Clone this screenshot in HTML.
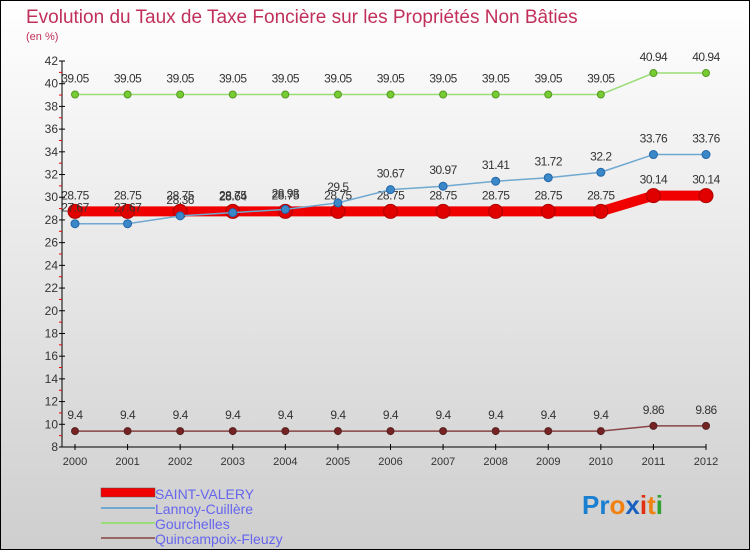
<!DOCTYPE html>
<html><head><meta charset="utf-8"><style>
body{margin:0;width:750px;height:550px;overflow:hidden}
svg{display:block;font-family:"Liberation Sans",sans-serif}
</style></head><body>
<svg id="c" width="750" height="550">
<defs><linearGradient id="bg" x1="0" y1="0" x2="0" y2="1"><stop offset="0" stop-color="#ffffff"/><stop offset="1" stop-color="#cecece"/></linearGradient></defs>
<rect x="0.5" y="0.5" width="749" height="549" fill="url(#bg)" stroke="#000"/>
<text x="26" y="23" font-size="19" fill="#c0305a">Evolution du Taux de Taxe Foncière sur les Propriétés Non Bâties</text>
<text x="26" y="40" font-size="11" fill="#c0305a">(en %)</text>
<g id="axes"></g><g id="series"></g>
<g>
<rect x="101" y="488" width="54" height="9" fill="#f00000" stroke="#555" stroke-width="0.5"/>
<text x="155" y="499" font-size="14" fill="#6666ee">SAINT-VALERY</text>
<line x1="101" y1="508" x2="155" y2="508" stroke="#6fa8d0" stroke-width="2"/>
<text x="155" y="514" font-size="14" fill="#6666ee">Lannoy-Cuillère</text>
<line x1="101" y1="523" x2="155" y2="523" stroke="#99dd77" stroke-width="2"/>
<text x="155" y="529" font-size="14" fill="#6666ee">Gourchelles</text>
<line x1="101" y1="538" x2="155" y2="538" stroke="#996666" stroke-width="2"/>
<text x="155" y="544" font-size="14" fill="#6666ee">Quincampoix-Fleuzy</text>
</g>
<text x="582" y="514" font-size="26" font-weight="bold"><tspan fill="#1a7fd0">Pr</tspan><tspan fill="#f08010">o</tspan><tspan fill="#1a60c0">x</tspan><tspan fill="#e03010">i</tspan><tspan fill="#f08010">t</tspan><tspan fill="#30a030">i</tspan></text>
</svg>
<script>
const years=[2000,2001,2002,2003,2004,2005,2006,2007,2008,2009,2010,2011,2012];
const yTicks=[8,10,12,14,16,18,20,22,24,26,28,30,32,34,36,38,40,42];
const saintValery=[28.75,28.75,28.75,28.75,28.75,28.75,28.75,28.75,28.75,28.75,28.75,30.14,30.14];
const lannoy=[27.67,27.67,28.36,28.64,28.93,29.5,30.67,30.97,31.41,31.72,32.2,33.76,33.76];
const gourchelles=[39.05,39.05,39.05,39.05,39.05,39.05,39.05,39.05,39.05,39.05,39.05,40.94,40.94];
const quincampoix=[9.4,9.4,9.4,9.4,9.4,9.4,9.4,9.4,9.4,9.4,9.4,9.86,9.86];
const NS="http://www.w3.org/2000/svg";
const xs=i=>75+i*(706-75)/(years.length-1);
const ys=v=>447-(v-8)*(447-61)/34;
function mk(t,a,p){const e=document.createElementNS(NS,t);for(const k in a)e.setAttribute(k,a[k]);p.appendChild(e);return e;}
const ax=document.getElementById('axes');
let e=mk('line',{x1:62,y1:61,x2:62,y2:447,stroke:'#000'},ax);


e=mk('line',{x1:62,y1:447,x2:706,y2:447,stroke:'#000'},ax);


yTicks.forEach(v=>{const y=ys(v);
mk('line',{x1:59,y1:y,x2:65,y2:y,stroke:'#000'},ax);
if(v<42)mk('line',{x1:59,y1:ys(v+1),x2:62,y2:ys(v+1),stroke:'#e00'},ax);
const t=mk('text',{x:58,y:y+4,'font-size':12,fill:'#333','text-anchor':'end'},ax);t.textContent=v;

});
years.forEach((yr,i)=>{const x=xs(i);
mk('line',{x1:x,y1:444,x2:x,y2:450,stroke:'#000'},ax);
const t=mk('text',{x:x,y:465,'font-size':11,fill:'#333','text-anchor':'middle'},ax);t.textContent=yr;

});
const sg=document.getElementById('series');
function series(name,vals,col,w,r,fill,dec){
const g=mk('g',{},sg);


mk('polyline',{points:vals.map((v,i)=>xs(i)+','+ys(v)).join(' '),fill:'none',stroke:col,'stroke-width':w},g);
vals.forEach((v,i)=>{const c=mk('circle',{cx:xs(i),cy:ys(v),r:r,fill:fill,stroke:dec,'stroke-width':1},g);


const t=mk('text',{x:xs(i),y:ys(v)-12,'font-size':12,fill:'#333','text-anchor':'middle','letter-spacing':'-0.5'},g);t.textContent=v;

});}
series('quincampoix',quincampoix,'#884444',1.5,3.5,'#772222','#552222');
series('gourchelles',gourchelles,'#99dd77',1.5,3.5,'#77cc33','#559922');
series('saint-valery',saintValery,'#f00000',10,7,'#e00000','#b00000');
series('lannoy',lannoy,'#6fa8d0',1.5,4,'#3a88c8','#2266aa');
</script>
</body></html>
